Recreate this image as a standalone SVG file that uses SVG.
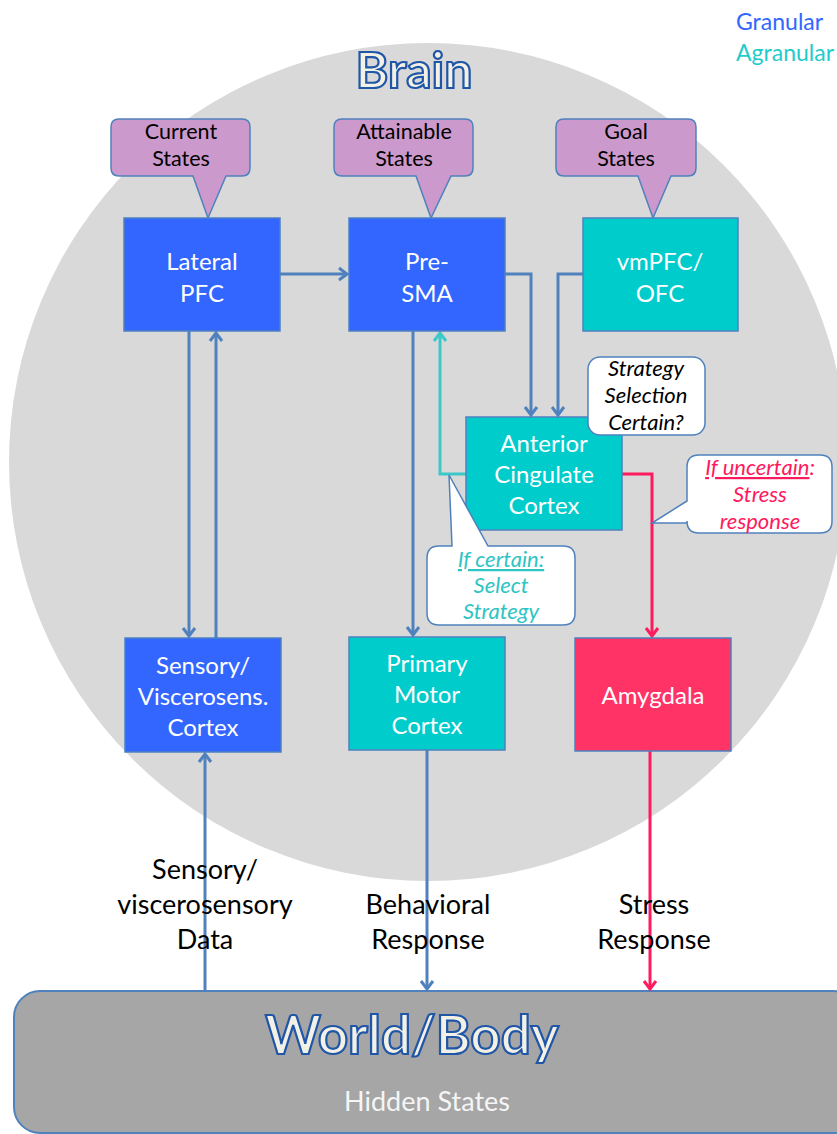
<svg xmlns="http://www.w3.org/2000/svg" width="837" height="1134" viewBox="0 0 837 1134">
<style>
text{font-family:Lato,"Open Sans","Liberation Sans",sans-serif}
.box{stroke:#4f81bd;stroke-width:1.5}
.gran{fill:#3366ff}
.agran{fill:#00cccc}
.amy{fill:#ff3366}
.bt{fill:#ffffff;font-size:24px;text-anchor:middle}
.call{fill:#cc99cc;stroke:#4f81bd;stroke-width:1.5}
.ct{fill:#000;font-size:21.5px;text-anchor:middle}
.wc{fill:#ffffff;stroke:#4f81bd;stroke-width:1.5}
.it{font-style:italic;font-size:22px;text-anchor:middle}
.lbl{fill:#000;font-size:27px;text-anchor:middle}
.title{fill:#f3f1e6;stroke:#1f56a8;stroke-width:2.2;text-anchor:middle;font-weight:bold}
.cb{fill:none;stroke:#4f81bd;stroke-width:3}
.cc{fill:none;stroke:#3cc8c8;stroke-width:3}
.cr{fill:none;stroke:#ff1a5e;stroke-width:3}
</style>
<defs>
<marker id="ab" viewBox="-10 -8 12 16" refX="0" refY="0" markerWidth="12" markerHeight="16" markerUnits="userSpaceOnUse" orient="auto"><path d="M-8,-6 L0,0 L-8,6" fill="none" stroke="#4f81bd" stroke-width="3"/></marker>
<marker id="ac" viewBox="-10 -8 12 16" refX="0" refY="0" markerWidth="12" markerHeight="16" markerUnits="userSpaceOnUse" orient="auto"><path d="M-8,-6 L0,0 L-8,6" fill="none" stroke="#3cc8c8" stroke-width="3"/></marker>
<marker id="ar" viewBox="-10 -8 12 16" refX="0" refY="0" markerWidth="12" markerHeight="16" markerUnits="userSpaceOnUse" orient="auto"><path d="M-8,-6 L0,0 L-8,6" fill="none" stroke="#ff1a5e" stroke-width="3"/></marker>
</defs>
<rect width="837" height="1134" fill="#ffffff"/>
<circle id="brain" cx="428" cy="462" r="419" fill="#d9d9d9"/>
<text class="title" x="414" y="88" font-size="50">Brain</text>
<g id="legend">
<text x="736" y="30" font-size="23" fill="#3366ff">Granular</text>
<text x="736" y="61" font-size="23" fill="#1fcccc">Agranular</text>
</g>

<g id="world">
<rect x="14" y="991" width="845" height="142" rx="26" fill="#a6a6a6" stroke="#4f81bd" stroke-width="2"/>
<text class="title" x="412" y="1054" font-size="53">World/Body</text>
<text x="427" y="1111" font-size="27" fill="#f5f5f5" text-anchor="middle">Hidden States</text>
</g>

<g id="connectors">
<path class="cb" d="M280,274 H347" marker-end="url(#ab)"/>
<path class="cb" d="M505,274 H531 V415" marker-end="url(#ab)"/>
<path class="cb" d="M583,274 H558 V415" marker-end="url(#ab)"/>
<path class="cb" d="M189,331 V636" marker-end="url(#ab)"/>
<path class="cb" d="M216,638 V333" marker-end="url(#ab)"/>
<path class="cb" d="M413,331 V635" marker-end="url(#ab)"/>
<path class="cc" d="M466,474 H440 V333" marker-end="url(#ac)"/>
<path class="cr" d="M622,474 H652 V636" marker-end="url(#ar)"/>
<path class="cb" d="M205,991 V754" marker-end="url(#ab)"/>
<path class="cb" d="M427,750 V989" marker-end="url(#ab)"/>
<path class="cr" d="M650,745 V989" marker-end="url(#ar)"/>
</g>

<g id="current-states">
<path class="call" d="M119,119 H242 Q250,119 250,127 V168 Q250,176 242,176 H226 L208,218 L193,176 H119 Q111,176 111,168 V127 Q111,119 119,119 Z"/>
<text class="ct" x="181" y="139">Current</text>
<text class="ct" x="181" y="165.5">States</text>
</g>
<g id="attainable-states">
<path class="call" d="M342,119 H465 Q473,119 473,127 V168 Q473,176 465,176 H451 L431,218 L416,176 H342 Q334,176 334,168 V127 Q334,119 342,119 Z"/>
<text class="ct" x="404" y="139">Attainable</text>
<text class="ct" x="404" y="165.5">States</text>
</g>
<g id="goal-states">
<path class="call" d="M564,119 H688 Q696,119 696,127 V168 Q696,176 688,176 H671 L653,218 L638,176 H564 Q556,176 556,168 V127 Q556,119 564,119 Z"/>
<text class="ct" x="626" y="139">Goal</text>
<text class="ct" x="626" y="165.5">States</text>
</g>

<g id="lateral-pfc">
<rect class="box gran" x="124" y="218" width="156" height="113"/>
<text class="bt" x="202" y="270">Lateral</text>
<text class="bt" x="202" y="302">PFC</text>
</g>
<g id="pre-sma">
<rect class="box gran" x="349" y="218" width="156" height="113"/>
<text class="bt" x="427" y="270">Pre-</text>
<text class="bt" x="427" y="302">SMA</text>
</g>
<g id="vmpfc-ofc">
<rect class="box agran" x="583" y="218" width="155" height="113"/>
<text class="bt" x="660" y="270">vmPFC/</text>
<text class="bt" x="660" y="302">OFC</text>
</g>
<g id="acc">
<rect class="box agran" x="466" y="417" width="156" height="113"/>
<text class="bt" x="544" y="452">Anterior</text>
<text class="bt" x="544" y="483">Cingulate</text>
<text class="bt" x="544" y="514">Cortex</text>
</g>
<g id="strategy-callout">
<rect class="wc" x="588" y="357" width="117" height="78" rx="12"/>
<text class="it" x="646" y="376" fill="#000">Strategy</text>
<text class="it" x="646" y="403" fill="#000">Selection</text>
<text class="it" x="646" y="430" fill="#000">Certain?</text>
</g>
<g id="uncertain-callout">
<path class="wc" d="M699,455 H820 Q832,455 832,467 V521 Q832,533 820,533 H699 Q687,533 687,521 V523 L652,523 L687,501 V467 Q687,455 699,455 Z"/>
<text class="it" x="760" y="475" fill="#ff1a5e"><tspan text-decoration="underline">If uncertain</tspan>:</text>
<text class="it" x="760" y="502" fill="#ff1a5e">Stress</text>
<text class="it" x="760" y="529" fill="#ff1a5e">response</text>
</g>
<g id="certain-callout">
<path class="wc" d="M439,546 H452 L449,475 L488,546 H563 Q575,546 575,558 V613 Q575,625 563,625 H439 Q427,625 427,613 V558 Q427,546 439,546 Z"/>
<text class="it" x="501" y="567" fill="#2ec4c4" text-decoration="underline">If certain:</text>
<text class="it" x="501" y="593" fill="#2ec4c4">Select</text>
<text class="it" x="501" y="619" fill="#2ec4c4">Strategy</text>
</g>

<g id="sensory-cortex">
<rect class="box gran" x="125" y="638" width="156" height="114"/>
<text class="bt" x="203" y="674">Sensory/</text>
<text class="bt" x="203" y="705">Viscerosens.</text>
<text class="bt" x="203" y="736">Cortex</text>
</g>
<g id="primary-motor">
<rect class="box agran" x="349" y="637" width="156" height="113"/>
<text class="bt" x="427" y="672">Primary</text>
<text class="bt" x="427" y="703">Motor</text>
<text class="bt" x="427" y="734">Cortex</text>
</g>
<g id="amygdala">
<rect class="box amy" x="575" y="638" width="156" height="113"/>
<text class="bt" x="653" y="704">Amygdala</text>
</g>

<g id="labels">
<text class="lbl" x="205" y="879">Sensory/</text>
<text class="lbl" x="205" y="914">viscerosensory</text>
<text class="lbl" x="205" y="949">Data</text>
<text class="lbl" x="428" y="914">Behavioral</text>
<text class="lbl" x="428" y="949">Response</text>
<text class="lbl" x="654" y="914">Stress</text>
<text class="lbl" x="654" y="949">Response</text>
</g>
</svg>
